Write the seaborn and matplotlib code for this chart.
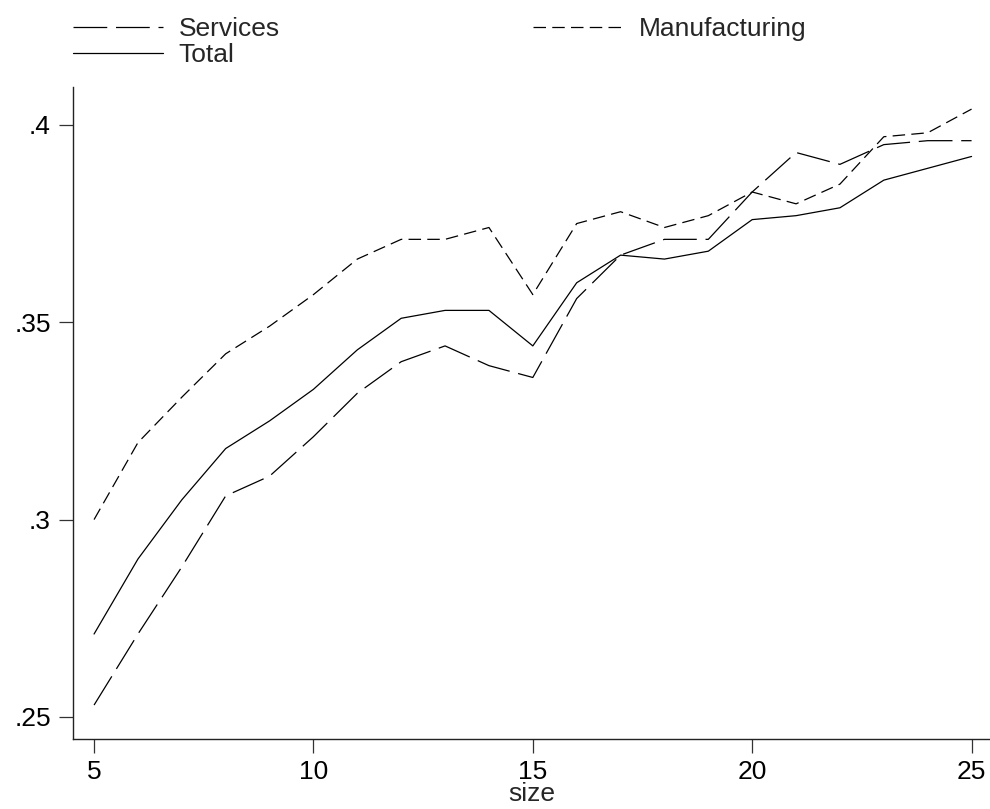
import matplotlib
matplotlib.use("Agg")
import matplotlib.pyplot as plt
from matplotlib.lines import Line2D
import seaborn as sns
import pandas as pd

# Firm size and the three series
size = list(range(5, 26))
services = [0.253, 0.271, 0.288, 0.306, 0.311, 0.321, 0.332, 0.340, 0.344, 0.339, 0.336,
            0.356, 0.367, 0.371, 0.371, 0.383, 0.393, 0.390, 0.395, 0.396, 0.396]
manufacturing = [0.300, 0.3195, 0.331, 0.342, 0.349, 0.357, 0.366, 0.371, 0.371, 0.374, 0.357,
                 0.375, 0.378, 0.374, 0.377, 0.383, 0.380, 0.385, 0.397, 0.398, 0.404]
total = [0.271, 0.290, 0.305, 0.318, 0.325, 0.333, 0.343, 0.351, 0.353, 0.353, 0.344,
         0.360, 0.367, 0.366, 0.368, 0.376, 0.377, 0.379, 0.386, 0.389, 0.392]

series_names = ["Services", "Manufacturing", "Total"]
x_ticks = [5, 10, 15, 20, 25]
y_ticks = [0.25, 0.30, 0.35, 0.40]
y_tick_labels = [".25", ".3", ".35", ".4"]

df = pd.DataFrame({
    "size": size * 3,
    "value": services + manufacturing + total,
    "series": [n for n, s in zip(series_names, [services, manufacturing, total]) for _ in s],
})

sns.set_theme(style="white")
plt.rcParams["font.family"] = ["Liberation Sans", "DejaVu Sans"]

fig = plt.figure(figsize=(9.9, 8.09), dpi=100)
ax = fig.add_axes([73 / 990, 1 - 739 / 809, 1 - 73 / 990, (739 - 87) / 809])

dash_styles = {
    "Services": (27, 7),
    "Manufacturing": (10, 5),
    "Total": "",
}
sns.lineplot(data=df, x="size", y="value", hue="series", style="series",
             hue_order=series_names, style_order=series_names,
             palette=["black"] * 3, dashes=dash_styles, linewidth=0.9,
             ax=ax, legend=False)

ax.set_xlim(4.52, 25.42)
ax.set_ylim(0.2444, 0.4096)
ax.set_xticks(x_ticks)
ax.set_xticklabels([str(t) for t in x_ticks])
ax.set_yticks(y_ticks)
ax.set_yticklabels(y_tick_labels)
ax.set_xlabel("size", fontsize=19, labelpad=-1)
ax.set_ylabel("")

for side in ["top", "right"]:
    ax.spines[side].set_visible(False)
for side in ["left", "bottom"]:
    ax.spines[side].set_color("#222222")
    ax.spines[side].set_linewidth(1.0)

ax.tick_params(axis="both", which="major", direction="out", length=10, width=0.9,
               color="#333333", labelsize=19, labelcolor="black", pad=6,
               left=True, bottom=True)
ax.tick_params(axis="x", pad=5)

# Legend: two columns, Services / Total on the left, Manufacturing on the right
h_serv = Line2D([], [], color="black", linewidth=0.9, dashes=(27, 7))
h_manu = Line2D([], [], color="black", linewidth=0.9, dashes=(10, 5))
h_tot = Line2D([], [], color="black", linewidth=0.9)
fig.legend([h_serv, h_tot, h_manu], ["Services", "Total", "Manufacturing"],
           ncol=2, loc="upper left", bbox_to_anchor=(73 / 990, 1 - 17 / 809),
           frameon=False, fontsize=19, handlelength=3.4, handletextpad=0.6,
           columnspacing=9.6, labelspacing=0.08, borderpad=0, borderaxespad=0)

fig.savefig("out.png", dpi=100, facecolor="white")
